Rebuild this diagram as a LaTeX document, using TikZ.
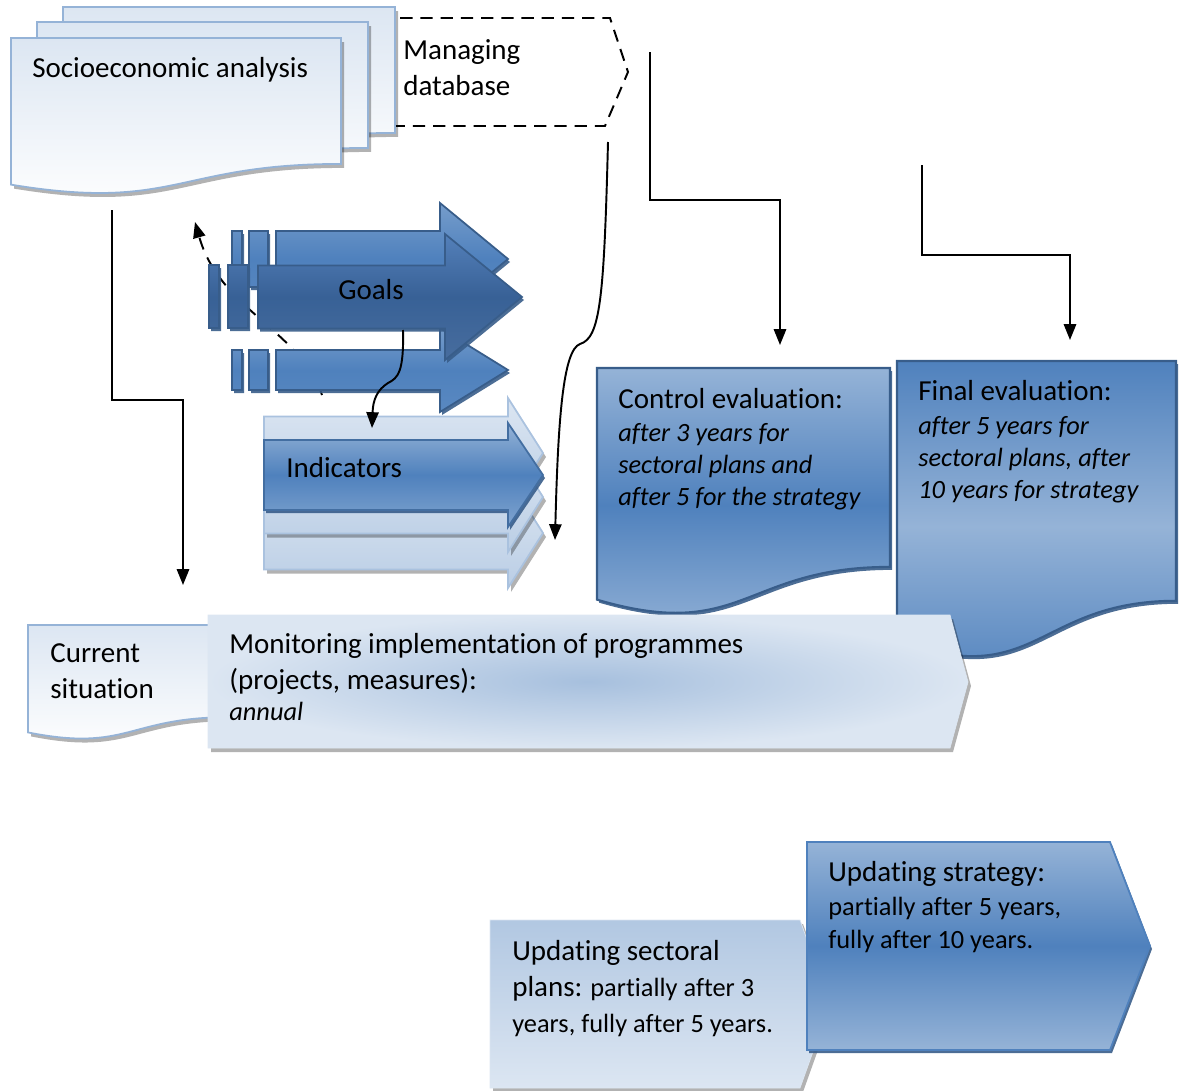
\documentclass[tikz,border=0pt]{standalone}
\usepackage{fontspec}
\setmainfont[Ligatures={CommonOff,ContextualOff}]{Carlito}
\usetikzlibrary{arrows.meta,shadows}
\definecolor{blue mid}{RGB}{79,129,189}
\definecolor{blue light}{RGB}{149,179,215}
\definecolor{blue pale}{RGB}{220,230,242}
\definecolor{blue edge}{RGB}{56,93,138}
\definecolor{goal dark}{RGB}{56,97,150}
\definecolor{goal top}{RGB}{84,128,186}
\colorlet{paper edge}{blue light}
\newcommand\docshape[4]{(#1,#2) -- ++(#3,0) -- ++(0,0.802*#4)
  .. controls +(-0.5*#3,0) and +(0.5*#3,0.173*#4) .. ++(-#3,0.132*#4) -- cycle}
\newcommand\homeshape[6]{(#1,#2) -- (#3,#2) -- (#4,#5) -- (#3,#6) -- (#1,#6) -- cycle}
\newcommand\arrowshape[6]{(#1,#4-#5) -- (#2,#4-#5) -- (#2,#4-#6) -- (#3,#4)
  -- (#2,#4+#6) -- (#2,#4+#5) -- (#1,#4+#5) -- cycle}
\tikzset{grey shadow/.style={drop shadow={shadow xshift=0.6mm, shadow yshift=-0.8mm, fill=black, opacity=0.3}},
    blue shadow/.style={drop shadow={shadow xshift=0.4mm, shadow yshift=-0.6mm, fill=blue edge, opacity=0.9}},
    paper/.style={draw=paper edge, line width=1pt, top color=blue pale, bottom color=white, grey shadow},
    db box/.style={draw, line width=1.1pt, dash pattern=on 7pt off 4.5pt, fill=white},
    goal back/.style={draw=blue edge, line width=1pt, top color=blue light!55!blue mid, bottom color=blue mid!85!blue light, middle color=blue mid, blue shadow},
    goal main/.style={draw=blue edge, line width=1pt, top color=goal top, bottom color=goal top!85!black, middle color=goal dark, blue shadow},
    ind back/.style={draw=blue light!80!white, line width=1pt, top color=blue pale, bottom color=blue light!65!white, grey shadow},
    ind main/.style={draw=blue mid!85!black, line width=1pt, top color=blue light, bottom color=blue light!70!blue mid, middle color=blue mid, blue shadow},
    eval light/.style={draw=blue edge, line width=1.2pt, top color=blue light, bottom color=blue light, middle color=blue mid, blue shadow},
    eval dark/.style={draw=blue edge, line width=1.2pt, top color=blue mid, bottom color=blue mid, middle color=blue light, blue shadow},
    monitor/.style={draw=blue pale, inner color=blue light!75!blue pale, outer color=blue pale, grey shadow},
    sector/.style={draw=blue pale, top color=blue light!60!blue pale, bottom color=blue pale, grey shadow},
    strategy/.style={draw=blue mid, line width=1pt, top color=blue light, bottom color=blue light, middle color=blue mid, blue shadow},
    link/.style={line width=1.1pt, -{Triangle[length=9pt,width=7pt]}},
    dash link/.style={link, dash pattern=on 7pt off 5pt},
    lbl/.style={inner sep=0pt, anchor=north west, align=left, font=\fontsize{16.5}{20.4}\selectfont},
    note/.style={lbl, font=\fontsize{15}{18.2}\selectfont\itshape},
    small/.style={lbl, font=\fontsize{15}{18.8}\selectfont}}

\begin{document}
\begin{tikzpicture}[x=0.2mm, y=-0.2mm]
    \useasboundingbox (0,0) rectangle (1180,1091);
    % database and the stack of analyses
    \draw[db box] (380,18) -- (610,18) -- (628,72) -- (605,126) -- (380,126) -- cycle;
    \path[paper] \docshape{63}{7}{332}{157};
    \path[paper] \docshape{37}{22}{331}{157};
    \path[paper] \docshape{11}{38}{330}{157};
    \node[lbl] (socio) at (32,57) {Socioeconomic analysis};
    \node[lbl] (db) at (403,39) {Managing\\database};

    % goals
    \coordinate (loop start) at (322,395);
    \coordinate (socio back) at (195,222);
    \draw[dash link] (loop start) .. controls (300,330) and (220,310) .. (socio back);
    \path[goal back] (232,231) rectangle (242,287) (249,231) rectangle (268,287) \arrowshape{276}{440}{508}{259}{28}{56};
    \path[goal back] (232,350) rectangle (242,390) (249,350) rectangle (268,390) \arrowshape{276}{440}{508}{370}{20}{42};
    \path[goal main] (209,265) rectangle (219,328) (228,265) rectangle (248,328) \arrowshape{258}{445}{522}{297}{31.5}{63};
    \node[lbl, anchor=center] (goals) at (371,290) {Goals};

    % indicators
    \path[ind back] \arrowshape{264}{508}{543}{533}{36.5}{55};
    \path[ind back] \arrowshape{264}{508}{543}{497}{36.5}{55};
    \path[ind back] \arrowshape{264}{508}{543}{453}{36.5}{55};
    \path[ind main] \arrowshape{264}{508}{543}{475}{35}{52};
    \node[lbl, anchor=west] (ind) at (286,468) {Indicators};

    % evaluations
    \path[eval light] \docshape{597}{368}{293}{248};
    \node[lbl] (ctrl) at (618,388) {Control evaluation:};
    \node[note] (ctrl when) at (618,423) {after 3 years for\\sectoral plans and\\after 5 for the strategy};
    \path[eval dark] \docshape{897}{361}{279}{299};
    \node[lbl] (fin) at (918,380) {Final evaluation:};
    \node[note] (fin when) at (918,416) {after 5 years for\\sectoral plans, after\\10 years for strategy};

    % monitoring
    \path[paper] \docshape{28}{625}{200}{115};
    \node[lbl] (now) at (50,643) {Current\\situation};
    \path[monitor] \homeshape{208}{615}{950}{968}{682}{748};
    \node[lbl] (mon) at (229,633) {Monitoring implementation of programmes\\(projects, measures):};
    \node[note] (mon when) at (229,702) {annual};

    % updating
    \path[sector] \homeshape{490}{920}{800}{830}{1004}{1088};
    \node[lbl] (sect) at (512,940) {Updating sectoral\\plans:\fontsize{15}{18}\selectfont{} partially after 3\\{\fontsize{15}{18}\selectfont years, fully after 5 years.}};
    \path[strategy] \homeshape{807}{842}{1110}{1150}{946}{1050};
    \node[lbl] (strat) at (828,861) {Updating strategy:};
    \node[small] (strat when) at (828,897) {partially after 5 years,\\fully after 10 years.};

    % connectors
    \coordinate (socio foot) at (112,210);
    \coordinate (now top) at (183,585);
    \draw[link] (socio foot) -- ++(0,190) -| (now top);
    \coordinate (db foot) at (650,52);
    \coordinate (ctrl top) at (780,345);
    \draw[link] (db foot) -- ++(0,148) -| (ctrl top);
    \coordinate (fin src) at (922,165);
    \coordinate (fin top) at (1070,340);
    \draw[link] (fin src) -- ++(0,90) -| (fin top);
    \coordinate (db tail) at (608,142);
    \coordinate (ind side) at (555,540);
    \draw[link] (db tail) .. controls (604,300) and (600,338) .. (580,344) .. controls (563,350) and (558,420) .. (ind side);
    \coordinate (goals foot) at (403,330);
    \coordinate (ind top) at (372,428);
    \draw[link] (goals foot) .. controls (404,372) and (398,378) .. (388,383) .. controls (377,390) and (373,400) .. (ind top);
\end{tikzpicture}
\end{document}
